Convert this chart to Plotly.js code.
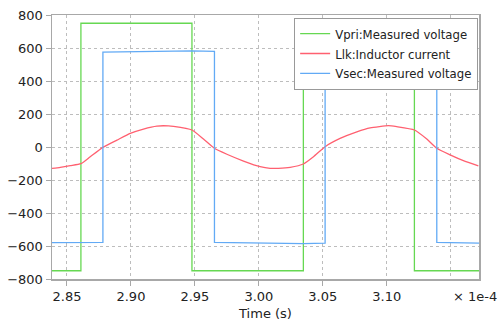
<!DOCTYPE html>
<html>
<head>
<meta charset="utf-8">
<script src="https://cdn.plot.ly/plotly-3.0.1.min.js"></script>
<style>html,body{margin:0;padding:0;background:#fff;}#chart{width:504px;height:323px;}</style>
</head>
<body>
<div id="chart"></div>
<script>
// time in units of 1e-4 s
const vpriTime = [2.8383, 2.8609, 2.8609, 2.9477, 2.9477, 3.0348, 3.0348, 3.1216, 3.1216, 3.1721];
const vpriValue = [-750, -750, 750, 750, -750, -750, 750, 750, -750, -750];

const llkTime = [2.8383, 2.8448, 2.8526, 2.8609, 2.8682, 2.8781, 2.8891, 2.8995, 2.9098, 2.9203, 2.9294, 2.9333, 2.9477, 2.9567, 2.9653, 2.9750, 2.9880, 3.0010, 3.0088, 3.0153, 3.0245, 3.0348, 3.0427, 3.0518, 3.0635, 3.0766, 3.0870, 3.1013, 3.1078, 3.1216, 3.1313, 3.1391, 3.1495, 3.1599, 3.1716];
const llkValue = [-129, -123, -113, -101, -59, -2, 42, 83, 109, 127, 128, 125, 103, 48, -8, -44, -85, -119, -129, -129, -123, -103, -59, 2, 52, 92, 116, 129, 123, 103, 48, -8, -48, -83, -115];

const vsecTime = [2.8383, 2.8609, 2.8781, 2.8781, 2.9477, 2.9653, 2.9653, 3.0348, 3.0518, 3.0518, 3.1216, 3.1391, 3.1391, 3.1721];
const vsecValue = [-580, -580, -578, 575, 583, 580, -578, -586, -582, 578, 583, 580, -578, -582];

const xTickVals = [2.85, 2.90, 2.95, 3.00, 3.05, 3.10];
const xTickText = ['2.85', '2.90', '2.95', '3.00', '3.05', '3.10'];
const yTickVals = [-800, -600, -400, -200, 0, 200, 400, 600, 800];

const font = 'DejaVu Sans, sans-serif';
const legendFont = 'DejaVu Sans Condensed, DejaVu Sans, sans-serif';

const traces = [
  {x: vpriTime, y: vpriValue, name: 'Vpri:Measured voltage', mode: 'lines', line: {color: '#66d852', width: 1.3}},
  {x: llkTime, y: llkValue, name: 'Llk:Inductor current', mode: 'lines', line: {color: '#ff6070', width: 1.3, shape: 'spline', smoothing: 0.5}},
  {x: vsecTime, y: vsecValue, name: 'Vsec:Measured voltage', mode: 'lines', line: {color: '#62aaf5', width: 1.3}}
];

const layout = {
  width: 504, height: 323,
  margin: {l: 52, r: 25, t: 15, b: 44},
  paper_bgcolor: '#ffffff', plot_bgcolor: '#ffffff',
  font: {family: font, size: 13, color: '#222'},
  showlegend: true,
  legend: {x: 0.998, xanchor: 'right', y: 0.99, yanchor: 'top', bgcolor: '#ffffff', bordercolor: '#999', borderwidth: 1, font: {family: legendFont, size: 13, color: '#222'}, tracegroupgap: 0, itemwidth: 30},
  xaxis: {
    range: [2.8383, 3.1721], tickmode: 'array', tickvals: xTickVals, ticktext: xTickText,
    showgrid: true, gridcolor: '#bdbdbd', griddash: 'dot', gridwidth: 1,
    showline: true, linecolor: '#a8a8a8', linewidth: 1.5, mirror: true,
    ticks: 'outside', ticklen: 5, tickcolor: '#a8a8a8',
    zeroline: false,
    minor: {tickmode: 'array', tickvals: [3.15], showgrid: true, gridcolor: '#bdbdbd', griddash: 'dot', ticks: ''},
    title: {text: 'Time (s)', font: {family: font, size: 13, color: '#222'}, standoff: 6},
    tickfont: {family: font, size: 13, color: '#222'}
  },
  yaxis: {
    range: [-800, 800], tickmode: 'array', tickvals: yTickVals,
    showgrid: true, gridcolor: '#bdbdbd', griddash: 'dot', gridwidth: 1,
    showline: true, linecolor: '#a8a8a8', linewidth: 1.5, mirror: true,
    ticks: 'outside', ticklen: 5, tickcolor: '#a8a8a8',
    zeroline: false,
    tickfont: {family: font, size: 13, color: '#222'}
  },
  annotations: [
    {x: 3.15, xref: 'x', y: 0, yref: 'paper', yshift: -8, xanchor: 'left', yanchor: 'top', showarrow: false, text: '× 1e-4', font: {family: font, size: 13, color: '#222'}}
  ]
};

Plotly.newPlot('chart', traces, layout, {displayModeBar: false, staticPlot: true});
</script>
</body>
</html>
